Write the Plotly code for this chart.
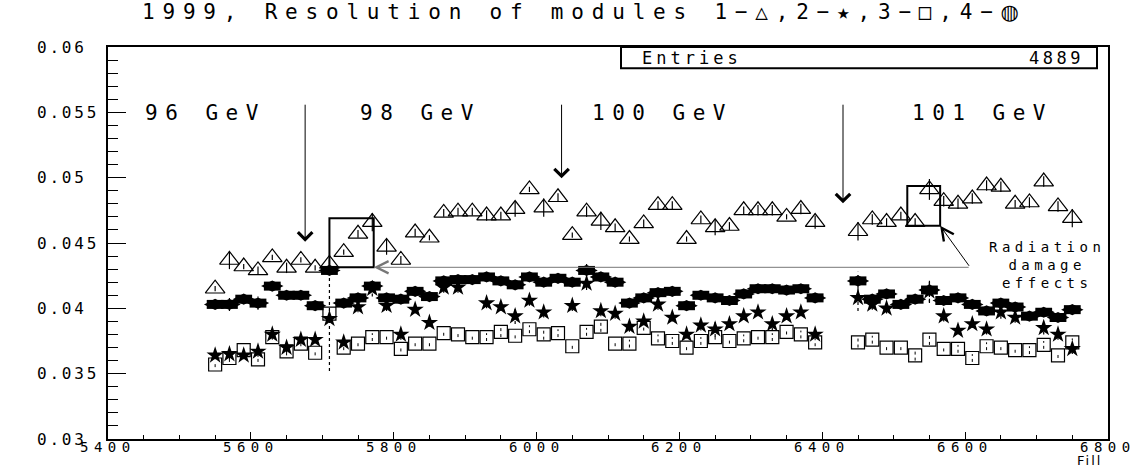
import plotly.graph_objects as go

# ── Data ─────────────────────────────────────────────────────────────────────
FILLS = [5550, 5570, 5590, 5610, 5630, 5650, 5670, 5690, 5710, 5730,
         5750, 5770, 5790, 5810, 5830, 5850, 5870, 5890, 5910, 5930,
         5950, 5970, 5990, 6010, 6030, 6050, 6070, 6090, 6110, 6130,
         6150, 6170, 6190, 6210, 6230, 6250, 6270, 6290, 6310, 6330,
         6350, 6370, 6390, 6450, 6470, 6490, 6510, 6530, 6550, 6570,
         6590, 6610, 6630, 6650, 6670, 6690, 6710, 6730, 6750]

# module 1 (triangles)
MOD1 = [0.0415, 0.0437, 0.0432, 0.0429, 0.0439, 0.0431, 0.0437, 0.0431, 0.0434, 0.0443,
        0.0457, 0.0466, 0.0447, 0.0437, 0.0458, 0.0454, 0.0473, 0.0474, 0.0474, 0.0471,
        0.0471, 0.0476, 0.0491, 0.0477, 0.0485, 0.0456, 0.0474, 0.0467, 0.0462, 0.0453,
        0.0465, 0.0479, 0.0479, 0.0453, 0.0468, 0.0462, 0.0463, 0.0475, 0.0475, 0.0475,
        0.0470, 0.0476, 0.0466, 0.0459, 0.0468, 0.0466, 0.0471, 0.0466, 0.0491, 0.0482,
        0.0480, 0.0484, 0.0494, 0.0493, 0.0480, 0.0481, 0.0497, 0.0478, 0.0469]
MOD1_ERR = [0.0002, 0.0007, 0.0002, 0.0003, 0.0002, 0.0004, 0.0002, 0.0002, 0.0003, 0.0002,
            0.0003, 0.0007, 0.0006, 0.0003, 0.0003, 0.0002, 0.0003, 0.0003, 0.0003, 0.0004,
            0.0003, 0.0006, 0.0002, 0.0007, 0.0003, 0.0002, 0.0004, 0.0007, 0.0003, 0.0002,
            0.0003, 0.0003, 0.0003, 0.0002, 0.0003, 0.0006, 0.0003, 0.0003, 0.0004, 0.0004,
            0.0002, 0.0004, 0.0005, 0.0007, 0.0004, 0.0003, 0.0003, 0.0003, 0.0008, 0.0004,
            0.0004, 0.0004, 0.0004, 0.0004, 0.0003, 0.0004, 0.0004, 0.0004, 0.0007]

# module 2 (stars), None where hidden
MOD2 = [0.0364, 0.0365, 0.0364, 0.0367, 0.0380, 0.0370, 0.0376, 0.0376, 0.0392, 0.0374,
        0.0401, 0.0415, 0.0402, 0.0380, 0.0399, 0.0389, 0.0416, 0.0416, None, 0.0404,
        0.0401, 0.0394, 0.0406, 0.0397, None, 0.0402, 0.0419, 0.0398, 0.0396, 0.0386,
        0.0390, 0.0403, 0.0393, 0.0380, 0.0387, 0.0384, 0.0388, 0.0394, 0.0397, 0.0388,
        0.0394, 0.0397, 0.0380, 0.0408, 0.0403, 0.0400, None, None, 0.0413, 0.0394,
        0.0383, 0.0388, 0.0384, 0.0397, 0.0393, None, 0.0385, 0.0380, 0.0369]
MOD2_ERR = [0.0003, 0.0004, 0.0003, 0.0004, 0.0003, 0.0004, 0.0003, 0.0003, 0.0040, 0.0003,
            0.0004, 0.0006, 0.0004, 0.0004, 0.0003, 0.0003, 0.0004, 0.0004, 0.0004, 0.0004,
            0.0003, 0.0006, 0.0004, 0.0004, 0.0004, 0.0004, 0.0005, 0.0004, 0.0004, 0.0004,
            0.0003, 0.0004, 0.0003, 0.0003, 0.0004, 0.0006, 0.0003, 0.0003, 0.0003, 0.0005,
            0.0003, 0.0003, 0.0003, 0.0010, 0.0004, 0.0004, 0.0004, 0.0004, 0.0009, 0.0004,
            0.0003, 0.0003, 0.0004, 0.0005, 0.0004, 0.0004, 0.0005, 0.0004, 0.0004]

# module 3 (open rectangles)
MOD3 = [0.0357, 0.0362, 0.0368, 0.0361, 0.0378, 0.0367, 0.0373, 0.0366, 0.0396, 0.0370,
        0.0373, 0.0378, 0.0378, 0.0369, 0.0373, 0.0373, 0.0381, 0.0380, 0.0378, 0.0378,
        0.0382, 0.0379, 0.0384, 0.0380, 0.0381, 0.0371, 0.0382, 0.0386, 0.0373, 0.0373,
        0.0385, 0.0377, 0.0375, 0.0370, 0.0375, 0.0378, 0.0375, 0.0377, 0.0378, 0.0378,
        0.0382, 0.0380, 0.0374, 0.0374, 0.0376, 0.0370, 0.0370, 0.0364, 0.0376, 0.0369,
        0.0369, 0.0362, 0.0371, 0.0370, 0.0368, 0.0368, 0.0372, 0.0364, 0.0374]
MOD3_ERR = [0.0002, 0.0003, 0.0002, 0.0002, 0.0002, 0.0003, 0.0002, 0.0002, 0.0003, 0.0002,
            0.0002, 0.0003, 0.0002, 0.0002, 0.0002, 0.0002, 0.0002, 0.0002, 0.0002, 0.0003,
            0.0004, 0.0002, 0.0003, 0.0004, 0.0003, 0.0002, 0.0003, 0.0004, 0.0002, 0.0003,
            0.0002, 0.0003, 0.0003, 0.0002, 0.0003, 0.0002, 0.0002, 0.0003, 0.0002, 0.0003,
            0.0002, 0.0003, 0.0003, 0.0004, 0.0003, 0.0002, 0.0002, 0.0004, 0.0004, 0.0002,
            0.0003, 0.0003, 0.0003, 0.0002, 0.0002, 0.0003, 0.0003, 0.0002, 0.0003]

# module 4 (filled ovals)
MOD4 = [0.0403, 0.0403, 0.0407, 0.0404, 0.0417, 0.0410, 0.0410, 0.0402, 0.0429, 0.0404,
        0.0408, 0.0417, 0.0408, 0.0407, 0.0413, 0.0409, 0.0421, 0.0422, 0.0422, 0.0424,
        0.0421, 0.0418, 0.0424, 0.0420, 0.0423, 0.0420, 0.0429, 0.0424, 0.0420, 0.0404,
        0.0408, 0.0412, 0.0413, 0.0402, 0.0410, 0.0408, 0.0406, 0.0411, 0.0415, 0.0415,
        0.0414, 0.0415, 0.0408, 0.0421, 0.0407, 0.0411, 0.0403, 0.0407, 0.0414, 0.0406,
        0.0408, 0.0403, 0.0398, 0.0404, 0.0401, 0.0394, 0.0397, 0.0393, 0.0399]
MOD4_ERR = [0.0002, 0.0005, 0.0002, 0.0005, 0.0002, 0.0002, 0.0002, 0.0002, 0.0003, 0.0002,
            0.0002, 0.0003, 0.0002, 0.0002, 0.0002, 0.0002, 0.0002, 0.0002, 0.0003, 0.0002,
            0.0002, 0.0002, 0.0002, 0.0002, 0.0002, 0.0002, 0.0005, 0.0002, 0.0002, 0.0002,
            0.0002, 0.0002, 0.0003, 0.0002, 0.0002, 0.0002, 0.0002, 0.0002, 0.0003, 0.0003,
            0.0002, 0.0003, 0.0002, 0.0007, 0.0002, 0.0002, 0.0002, 0.0002, 0.0009, 0.0002,
            0.0002, 0.0002, 0.0002, 0.0002, 0.0002, 0.0002, 0.0002, 0.0002, 0.0003]

Y_TICKS = [0.03, 0.035, 0.04, 0.045, 0.05, 0.055, 0.06]
Y_TICK_TEXT = ['0.03', '0.035', '0.04', '0.045', '0.05', '0.055', '0.06']
X_TICKS = [5400, 5600, 5800, 6000, 6200, 6400, 6600, 6800]
X_TICK_TEXT = ['5400', '5600', '5800', '6000', '6200', '6400', '6600', '6800']

TITLE = ('1999, Resolution of modules 1−△,2−★,3−□,4−'
         '<span style="font-family:\'DejaVu Sans\'">◍</span>')
ENERGY_LABELS = ['96 GeV', '98 GeV', '100 GeV', '101 GeV']
ENERGY_LABEL_X = [5536, 5837, 6176, 6624]
ENERGY_LABEL_Y = 0.05495
ARROW_X = [5676, 6035, 6429]
ARROW_TIP = [0.0451, 0.04995, 0.04804]
ARROW_TOP = 0.0557
ENTRIES = 4889

# radiation damage boxes: (x0, x1, y0, y1)
DAMAGE_BOXES = [(5710, 5772, 0.04314, 0.04689), (6519, 6565, 0.04632, 0.04936)]
DAMAGE_ORIGIN = (6607, 0.04314)

FONT = 'DejaVu Sans Mono, DejaVu Sans'


def spaced(text, px):
    # wide, airy lettering like the original ROOT font
    return f'<span style="letter-spacing:{px}px">{text}</span>'


def dotted_bars(x, y, err):
    xs, ys = [], []
    for xi, yi, ei in zip(x, y, err):
        if yi is None:
            continue
        xs += [xi, xi, None]
        ys += [yi - ei, yi + ei, None]
    return xs, ys


fig = go.Figure()

# module 3: open rectangles with dotted error bars
bx, by = dotted_bars(FILLS, MOD3, MOD3_ERR)
fig.add_trace(go.Scatter(x=bx, y=by, mode='lines',
                         line=dict(color='black', width=1, dash='dot')))
fig.add_trace(go.Scatter(
    x=FILLS, y=MOD3, mode='markers',
    marker=dict(symbol='square-open', size=13, color='black', line=dict(width=1.2)),
))

# module 2: stars with dotted error bars
bx, by = dotted_bars(FILLS, MOD2, MOD2_ERR)
fig.add_trace(go.Scatter(x=bx, y=by, mode='lines',
                         line=dict(color='black', width=1.2, dash='dot')))
fig.add_trace(go.Scatter(
    x=FILLS, y=MOD2, mode='markers',
    marker=dict(symbol='star', size=13, color='black', line=dict(width=0)),
))

# module 4: filled ovals (diamond-wide + short thick bar -> octagonal oval)
bx, by = dotted_bars(FILLS, MOD4, MOD4_ERR)
fig.add_trace(go.Scatter(x=bx, y=by, mode='lines',
                         line=dict(color='black', width=1.2, dash='dot')))
fig.add_trace(go.Scatter(
    x=FILLS, y=MOD4, mode='markers',
    marker=dict(symbol='diamond-wide', size=16, color='black', line=dict(width=0)),
))
fig.add_trace(go.Scatter(
    x=FILLS, y=MOD4, mode='markers',
    marker=dict(symbol='line-ew', size=12, line=dict(color='black', width=9)),
))

# module 1: open triangles with solid error bars
fig.add_trace(go.Scatter(
    x=FILLS, y=MOD1, mode='markers',
    error_y=dict(type='data', array=MOD1_ERR, color='black', thickness=1.2, width=0),
    marker=dict(symbol='triangle-up-open', size=17, color='black', line=dict(width=1.2)),
))

# energy labels and arrows
for lab, lx in zip(ENERGY_LABELS, ENERGY_LABEL_X):
    fig.add_annotation(x=lx, y=ENERGY_LABEL_Y, text=spaced(lab, 7.5), showarrow=False,
                       yanchor='middle', font=dict(family=FONT, size=21, color='black'))
for ax_, tip in zip(ARROW_X, ARROW_TIP):
    fig.add_annotation(x=ax_, y=tip, ax=ax_, ay=ARROW_TOP, axref='x', ayref='y',
                       text='', showarrow=True, arrowhead=4, arrowsize=2.8,
                       arrowwidth=1, arrowcolor='black')

# radiation damage boxes and pointers
for x0, x1, y0, y1 in DAMAGE_BOXES:
    fig.add_shape(type='rect', xref='x', yref='y', x0=x0, x1=x1, y0=y0, y1=y1,
                  line=dict(color='black', width=2))
ox, oy = DAMAGE_ORIGIN
fig.add_annotation(x=DAMAGE_BOXES[0][1], y=DAMAGE_BOXES[0][2], ax=ox, ay=oy,
                   axref='x', ayref='y', text='', showarrow=True, arrowhead=5,
                   arrowsize=2.4, arrowwidth=1, arrowcolor='#777777')
fig.add_annotation(x=DAMAGE_BOXES[1][1], y=DAMAGE_BOXES[1][2], ax=ox, ay=oy,
                   axref='x', ayref='y', text='', showarrow=True, arrowhead=5,
                   arrowsize=2.4, arrowwidth=1, arrowcolor='black')
fig.add_annotation(x=6714, y=0.04331,
                   text=spaced('Radiation<br>damage<br>effects', 4.5),
                   showarrow=False, align='center', yanchor='middle',
                   font=dict(family=FONT, size=14, color='black'))

# stats box
fig.add_shape(type='rect', xref='paper', yref='paper', x0=0.513, x1=0.989,
              y0=0.946, y1=1.0, line=dict(color='black', width=2))
fig.add_annotation(xref='paper', yref='paper', x=0.532, y=0.973, xanchor='left',
                   yanchor='middle', text=spaced('Entries', 4), showarrow=False,
                   font=dict(family=FONT, size=17, color='black'))
fig.add_annotation(xref='paper', yref='paper', x=0.978, y=0.973, xanchor='right',
                   yanchor='middle', text=spaced(str(ENTRIES), 3.5), showarrow=False,
                   font=dict(family=FONT, size=17, color='black'))

# title
fig.add_annotation(xref='paper', yref='paper', x=0.476, y=1.089,
                   xanchor='center', yanchor='middle', text=spaced(TITLE, 7.8),
                   showarrow=False, font=dict(family=FONT, size=21, color='black'))

# tick labels drawn as annotations (left aligned y labels, tight x labels)
for v, t in zip(Y_TICKS, Y_TICK_TEXT):
    fig.add_annotation(xref='paper', yref='y', x=-0.073, y=v, xanchor='left',
                       yanchor='middle', text=spaced(t, 2.8), showarrow=False,
                       font=dict(family=FONT, size=16, color='black'))
for v, t in zip(X_TICKS, X_TICK_TEXT):
    fig.add_annotation(xref='x', yref='paper', x=v, y=-0.021, xanchor='center',
                       yanchor='middle', text=spaced(t, 5.5), showarrow=False,
                       font=dict(family=FONT, size=14, color='black'))

fig.add_annotation(xref='paper', yref='paper', x=0.981, y=-0.055, xanchor='center',
                   yanchor='middle', text=spaced('Fill', 2), showarrow=False,
                   font=dict(family='DejaVu Sans', size=13, color='black'))

fig.update_xaxes(
    range=[5400, 6800], tickvals=X_TICKS, showticklabels=False,
    ticks='inside', ticklen=7, tickcolor='black', tickwidth=1, automargin=False,
    minor=dict(dtick=50, ticks='inside', ticklen=4, tickcolor='black'),
    showgrid=False, zeroline=False, showline=True, mirror=True,
    linecolor='black', linewidth=1.5,
)
fig.update_yaxes(
    range=[0.03, 0.06], tickvals=Y_TICKS, showticklabels=False,
    ticks='inside', ticklen=18, tickcolor='black', automargin=False,
    minor=dict(dtick=0.001, tick0=0.03, ticks='inside', ticklen=10, tickcolor='black'),
    showgrid=False, zeroline=False, showline=True, mirror=True,
    linecolor='black', linewidth=1.5,
)
fig.update_layout(
    width=1143, height=467, showlegend=False,
    margin=dict(l=108, r=35, t=47, b=28),
    plot_bgcolor='white', paper_bgcolor='white',
)

# drop the default 8 px page margin so the figure fills the window exactly
fig.write_html('out.html', config={'displayModeBar': False},
               post_script="document.body.style.margin='0';"
                           "document.body.style.overflow='hidden';")
